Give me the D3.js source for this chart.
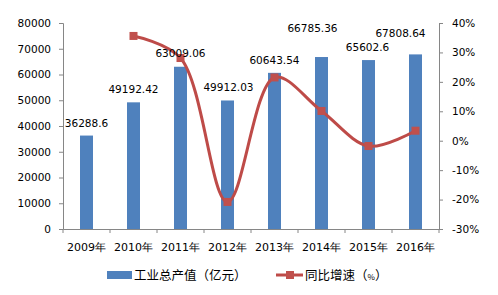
<!DOCTYPE html>
<html>
<head>
<meta charset="utf-8">
<script src="https://cdn.jsdelivr.net/npm/d3@7/dist/d3.min.js"></script>
<style>
body { margin: 0; background: #fff; }
text { font-family: "DejaVu Sans", Verdana, sans-serif; }
</style>
</head>
<body>
<script>
var years = ['2009年', '2010年', '2011年', '2012年', '2013年', '2014年', '2015年', '2016年'];
var output = [36288.6, 49192.42, 63009.06, 49912.03, 60643.54, 66785.36, 65602.6, 67808.64];
var growth = [null, 35.6, 28.1, -20.8, 21.5, 10.1, -1.8, 3.4];
var leftTicks = [0, 10000, 20000, 30000, 40000, 50000, 60000, 70000, 80000];
var rightTicks = [-30, -20, -10, 0, 10, 20, 30, 40];

// label nudges (x, y) so they dodge the line
var nudge = [[0, 0], [0, 0], [0, -1], [1, 0], [0, 0], [-9, -16], [-1, 0], [-15, -8]];

var width = 498, height = 295;
var plotL = 63, plotR = 439, plotT = 23, plotB = 229;
var fs = 10.5;

var svg = d3.select('body').append('svg')
    .attr('width', width)
    .attr('height', height);

var x = d3.scaleBand().domain(years).range([plotL, plotR]);
var yL = d3.scaleLinear().domain([0, 80000]).range([plotB, plotT]);
var yR = d3.scaleLinear().domain([-30, 40]).range([plotB, plotT]);

// bars
svg.selectAll('rect.bar')
    .data(output)
    .enter().append('rect')
    .attr('class', 'bar')
    .attr('x', (d, i) => x(years[i]) + x.bandwidth() / 2 - 6.5)
    .attr('width', 13)
    .attr('y', d => yL(d))
    .attr('height', d => plotB - yL(d))
    .attr('fill', '#4F81BD');

// axes
var axisColor = '#868686';
var gL = svg.append('g').attr('transform', 'translate(' + plotL + ',0)')
    .call(d3.axisLeft(yL).tickValues(leftTicks).tickSize(4).tickPadding(8).tickFormat(d3.format('d')));
var gR = svg.append('g').attr('transform', 'translate(' + plotR + ',0)')
    .call(d3.axisRight(yR).tickValues(rightTicks).tickSize(4).tickPadding(9).tickFormat(d => d + '%'));
var gX = svg.append('g').attr('transform', 'translate(0,' + plotB + ')')
    .call(d3.axisBottom(x).tickSize(0).tickPadding(14));

[gL, gR, gX].forEach(g => {
    g.select('.domain').attr('stroke', axisColor);
    g.selectAll('.tick line').attr('stroke', axisColor);
    g.selectAll('text').attr('fill', '#000').style('font-size', fs + 'px')
        .style('font-family', '"DejaVu Sans", Verdana, sans-serif');
});
gX.selectAll('text').style('font-size', '11px');

// x tick marks on band boundaries
svg.selectAll('line.xt')
    .data(years.concat(['end']))
    .enter().append('line')
    .attr('x1', (d, i) => plotL + i * x.step())
    .attr('x2', (d, i) => plotL + i * x.step())
    .attr('y1', plotB)
    .attr('y2', plotB + 4)
    .attr('stroke', axisColor);

// growth line
var pts = growth.map((g, i) => [x(years[i]) + x.bandwidth() / 2, g]).filter(p => p[1] !== null);
var line = d3.line()
    .x(p => p[0])
    .y(p => yR(p[1]))
    .curve(d3.curveCatmullRom.alpha(0.5));

svg.append('path')
    .attr('d', line(pts))
    .attr('fill', 'none')
    .attr('stroke', '#BE4B48')
    .attr('stroke-width', 3);

svg.selectAll('rect.mk')
    .data(pts)
    .enter().append('rect')
    .attr('class', 'mk')
    .attr('x', p => p[0] - 4)
    .attr('y', p => yR(p[1]) - 4)
    .attr('width', 8)
    .attr('height', 8)
    .attr('fill', '#C0504D');

// bar value labels
svg.selectAll('text.val')
    .data(output)
    .enter().append('text')
    .attr('class', 'val')
    .attr('x', (d, i) => x(years[i]) + x.bandwidth() / 2 + nudge[i][0])
    .attr('y', (d, i) => yL(d) - 9 + nudge[i][1])
    .attr('text-anchor', 'middle')
    .style('font-size', fs + 'px')
    .text(d => d);

// legend
var ly = 275;
svg.append('rect')
    .attr('x', 107).attr('y', ly - 4)
    .attr('width', 25).attr('height', 8)
    .attr('fill', '#4F81BD');
svg.append('text')
    .attr('x', 134).attr('y', ly + 5)
    .style('font-size', '12.5px')
    .style('font-family', '"Noto Sans CJK SC", sans-serif')
    .text('工业总产值（亿元）');

svg.append('line')
    .attr('x1', 276).attr('x2', 303)
    .attr('y1', ly).attr('y2', ly)
    .attr('stroke', '#BE4B48').attr('stroke-width', 3);
svg.append('rect')
    .attr('x', 286).attr('y', ly - 4)
    .attr('width', 8).attr('height', 8)
    .attr('fill', '#C0504D');
var lt = svg.append('text')
    .attr('x', 305).attr('y', ly + 5)
    .style('font-size', '12.5px')
    .style('font-family', '"Noto Sans CJK SC", sans-serif');
lt.append('tspan').text('同比增速（');
lt.append('tspan').style('font-size', '8px').text('%');
lt.append('tspan').text('）');
</script>
</body>
</html>
